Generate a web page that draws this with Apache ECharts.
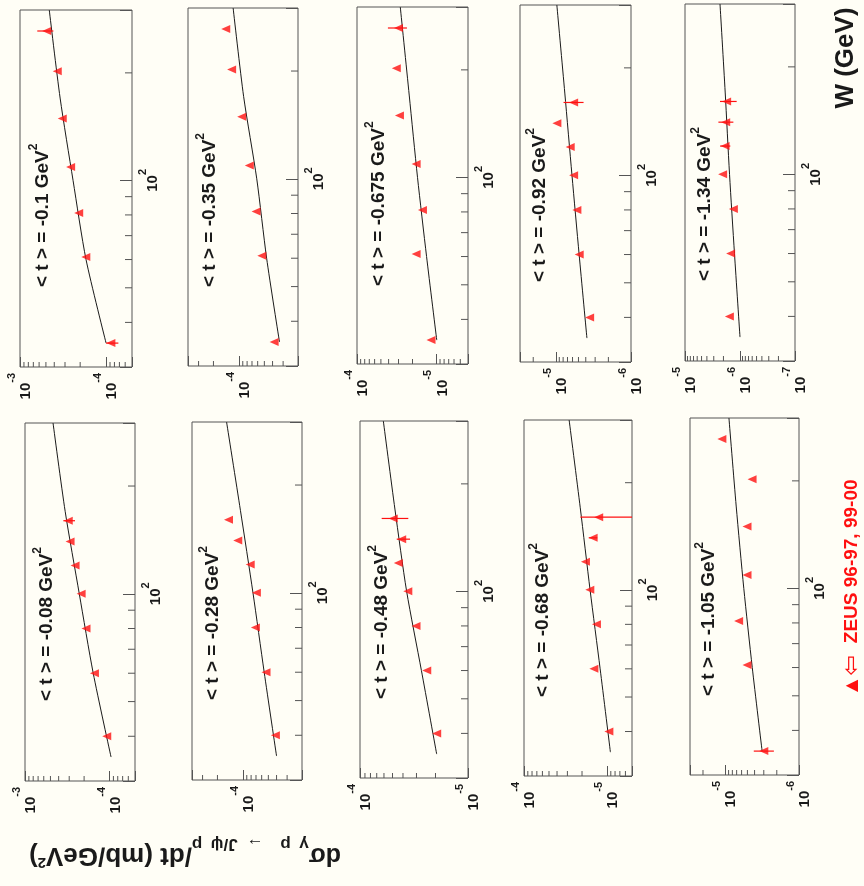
<!DOCTYPE html>
<html><head><meta charset="utf-8">
<script src="https://cdn.jsdelivr.net/npm/echarts@6/dist/echarts.min.js"></script>
<style>html,body{margin:0;padding:0;background:#fffef6}#c{width:864px;height:886px}</style>
</head><body><div id="c"></div>
<script>
// ---------------- data ----------------
const T_LABELS = ['-0.1', '-0.35', '-0.675', '-0.92', '-1.34', '-0.08', '-0.28', '-0.48', '-0.68', '-1.05'];
const W_HIGH = [35, 61, 81, 109, 149, 202, 262];
const W_LOW = [40, 60, 80, 100, 120, 140, 160];
const W_RANGE = [30, 300];
const W_MINOR = [40, 50, 60, 70, 80, 90, 200];
const XS_RANGES = [[5e-5, 1e-3], [2e-5, 4e-4], [4e-6, 1e-4], [1e-6, 3e-5], [1e-7, 1e-5],
                   [5e-5, 1e-3], [2e-5, 4e-4], [1e-5, 1e-4], [5e-6, 1e-4], [1e-6, 3e-5]];

const XS_T1 = [8.8e-5, 1.72e-4, 2.08e-4, 2.58e-4, 3.23e-4, 3.69e-4, 4.9e-4];
const XS_T2 = [3.83e-5, 5.36e-5, 6.27e-5, 7.53e-5, 9.27e-5, 1.22e-4, 1.43e-4];
const XS_T3 = [1.17e-5, 1.80e-5, 1.50e-5, 1.80e-5, 2.92e-5, 3.2e-5, 3.0e-5];
const XS_T4 = [3.55e-6, 4.89e-6, 5.25e-6, 5.8e-6, 6.44e-6, 9.7e-6, 5.8e-6];
const XS_T5 = [1.56e-6, 1.48e-6, 1.32e-6, 2.07e-6, 1.87e-6, 1.82e-6, 1.75e-6];
const XS_B1 = [1.08e-4, 1.51e-4, 1.90e-4, 2.17e-4, 2.56e-4, 2.93e-4, 3.08e-4];
const XS_B2 = [4.13e-5, 5.33e-5, 7.12e-5, 6.93e-5, 8.2e-5, 1.15e-4, 1.48e-4];
const XS_B3 = [1.95e-5, 2.41e-5, 3.03e-5, 3.61e-5, 4.42e-5, 4.11e-5, 4.92e-5];
const XS_B4 = [9.5e-6, 1.44e-5, 1.34e-5, 1.61e-5, 1.82e-5, 1.47e-5, 1.26e-5];
const XS_B5 = [3.0e-6, 5.07e-6, 6.58e-6, 5.07e-6, 5.07e-6, 4.33e-6, 1.11e-5];

const ERR_T1 = [[7.2e-5, 1.0e-4], null, null, null, null, null, [4.1e-4, 6.3e-4]];
const ERR_T2 = [null, null, null, null, null, null, null];
const ERR_T3 = [null, null, null, null, null, null, [2.35e-5, 4.08e-5]];
const ERR_T4 = [null, null, null, null, null, null, [4.28e-6, 7.9e-6]];
const ERR_T5 = [null, null, null, null, [1.5e-6, 2.3e-6], [1.32e-6, 2.47e-6], [1.15e-6, 2.31e-6]];
const ERR_B1 = [null, null, null, null, null, null, [2.56e-4, 3.52e-4]];
const ERR_B2 = [null, null, null, null, null, null, null];
const ERR_B3 = [null, null, null, null, null, [3.44e-5, 4.57e-5], [3.57e-5, 6.3e-5]];
const ERR_B4 = [null, null, null, null, null, [1.31e-5, 1.66e-5], [3e-6, 2.09e-5]];
const ERR_B5 = [[2.19e-6, 4.1e-6], null, null, null, null, null, null];

const TH_W = [35, 60, 100, 170, 300];
const TH_T1 = [1.0e-4, 1.71e-4, 2.42e-4, 3.42e-4, 4.57e-4];
const TH_T2 = [3.31e-5, 4.7e-5, 6.15e-5, 8.8e-5, 1.17e-4];
const TH_T3 = [9.9e-6, 1.33e-5, 1.73e-5, 2.2e-5, 2.85e-5];
const TH_T4 = [3.86e-6, 4.9e-6, 6.1e-6, 7.6e-6, 9.7e-6];
const TH_T5 = [1.0e-6, 1.26e-6, 1.55e-6, 1.86e-6, 2.31e-6];
const TH_B1 = [9.6e-5, 1.56e-4, 2.28e-4, 3.35e-4, 4.66e-4];
const TH_B2 = [4.0e-5, 5.6e-5, 7.6e-5, 1.07e-4, 1.56e-4];
const TH_B3 = [1.95e-5, 2.7e-5, 3.7e-5, 4.75e-5, 6.08e-5];
const TH_B4 = [9.1e-6, 1.21e-5, 1.6e-5, 2.1e-5, 2.86e-5];
const TH_B5 = [3.16e-6, 4.3e-6, 5.6e-6, 7.1e-6, 8.9e-6];

// ---------------- layout (picture is the figure turned a quarter turn) ----------------
const BOXES = [[20, 10, 112, 357], [188, 8, 110, 358], [357, 7, 111, 357], [520, 5, 111, 357], [685, 4, 110, 357],
               [25, 423, 110, 358], [192, 422, 110, 358], [360, 421, 108, 357], [524, 420, 108, 356], [690, 418, 109, 357]];
const LABEL_POS = [[40, 287], [207, 287], [376, 286], [537, 282], [702, 281],
                   [44, 701], [210, 700], [379, 699], [540, 697], [706, 696]];

const PANEL_W = [W_HIGH, W_HIGH, W_HIGH, W_LOW, W_LOW, W_LOW, W_LOW, W_LOW, W_LOW, W_HIGH];
const PANEL_XS = [XS_T1, XS_T2, XS_T3, XS_T4, XS_T5, XS_B1, XS_B2, XS_B3, XS_B4, XS_B5];
const PANEL_ERR = [ERR_T1, ERR_T2, ERR_T3, ERR_T4, ERR_T5, ERR_B1, ERR_B2, ERR_B3, ERR_B4, ERR_B5];
const PANEL_TH = [TH_T1, TH_T2, TH_T3, TH_T4, TH_T5, TH_B1, TH_B2, TH_B3, TH_B4, TH_B5];

const FONT = '"Liberation Sans", Arial, Helvetica, sans-serif';
const INK = '#1a1a1a';
const FRAME = '#555555';
const RED = '#ff1010';

function decadeMinors(min, max) {
  const out = [];
  for (let k = Math.floor(Math.log10(min)); k <= Math.ceil(Math.log10(max)); k++) {
    for (let m = 2; m <= 9; m++) {
      const v = m * Math.pow(10, k);
      if (v > min * 1.001 && v < max * 0.999) out.push(v);
    }
  }
  return out;
}
function powLabel(v) {
  const e = Math.log10(v), r = Math.round(e);
  if (Math.abs(e - r) > 1e-6) return '';
  return '{b|10}{e|' + r + '}';
}
const richX = {
  b: {fontFamily: FONT, fontSize: 15, fontWeight: 'bold', color: INK, verticalAlign: 'bottom'},
  e: {fontFamily: FONT, fontSize: 11, fontWeight: 'bold', color: INK, verticalAlign: 'top', padding: [0, 0, 16, 0]}
};
const richW = {
  b: {fontFamily: FONT, fontSize: 15, fontWeight: 'bold', color: INK, verticalAlign: 'bottom'},
  e: {fontFamily: FONT, fontSize: 11, fontWeight: 'bold', color: INK, verticalAlign: 'top', padding: [0, 0, 12, 0]}
};

const grids = [], xAxes = [], yAxes = [], series = [], graphics = [];

BOXES.forEach((b, i) => {
  const xr = XS_RANGES[i];
  grids.push({left: b[0], top: b[1], width: b[2], height: b[3], show: true, borderColor: FRAME, borderWidth: 1,
              backgroundColor: 'transparent', containLabel: false, outerBoundsMode: 'none'});
  xAxes.push({
    type: 'log', gridIndex: i, min: xr[0], max: xr[1], inverse: true, position: 'bottom', logBase: 10,
    axisLine: {show: false},
    axisTick: {show: true, inside: true, length: 10, lineStyle: {color: FRAME, width: 1}},
    axisLabel: {show: true, rotate: 90, margin: 6, formatter: powLabel, rich: richX},
    splitLine: {show: false}, minorTick: {show: false}, minorSplitLine: {show: false}
  });
  yAxes.push({
    type: 'log', gridIndex: i, min: W_RANGE[0], max: W_RANGE[1], position: 'right', logBase: 10,
    axisLine: {show: false},
    axisTick: {show: true, inside: true, length: 12, lineStyle: {color: FRAME, width: 1}},
    axisLabel: {show: true, rotate: 90, margin: 5, formatter: powLabel, rich: richW},
    splitLine: {show: false}, minorTick: {show: false}, minorSplitLine: {show: false}
  });

  // minor ticks (log 2..9) drawn through the axes' own scales
  const tickData = decadeMinors(xr[0], xr[1]).map(v => [0, v, W_RANGE[0]])
    .concat(W_MINOR.map(w => [1, xr[0], w]));
  series.push({
    type: 'custom', xAxisIndex: i, yAxisIndex: i, silent: true, clip: false, z: 3,
    encode: {x: 1, y: 2},
    data: tickData,
    renderItem: (params, api) => {
      const p = api.coord([api.value(1), api.value(2)]);
      const flag = api.value(0);
      const shape = flag === 0
        ? {x1: p[0], y1: p[1], x2: p[0], y2: p[1] - 5}
        : {x1: p[0], y1: p[1], x2: p[0] - 7, y2: p[1]};
      return {type: 'line', shape, style: {stroke: FRAME, lineWidth: 1}};
    }
  });

  // theory curve
  series.push({
    type: 'line', xAxisIndex: i, yAxisIndex: i, showSymbol: false, symbol: 'none', smooth: 0.25,
    silent: true, clip: true, z: 2,
    lineStyle: {color: INK, width: 1},
    data: TH_W.map((w, k) => [PANEL_TH[i][k], w])
  });

  // error bars
  const errData = [];
  PANEL_ERR[i].forEach((e, k) => { if (e) errData.push([e[0], e[1], PANEL_W[i][k]]); });
  series.push({
    type: 'custom', xAxisIndex: i, yAxisIndex: i, silent: true, clip: true, z: 4,
    encode: {x: [0, 1], y: 2},
    data: errData,
    renderItem: (params, api) => {
      const a = api.coord([api.value(0), api.value(2)]);
      const c = api.coord([api.value(1), api.value(2)]);
      return {type: 'line', shape: {x1: a[0], y1: a[1], x2: c[0], y2: c[1]}, style: {stroke: RED, lineWidth: 1.2}};
    }
  });

  // ZEUS points
  series.push({
    type: 'scatter', xAxisIndex: i, yAxisIndex: i, symbol: 'triangle', symbolRotate: 90, symbolSize: [8, 9],
    silent: true, z: 5, itemStyle: {color: RED},
    data: PANEL_W[i].map((w, k) => [PANEL_XS[i][k], w])
  });

  // panel label
  graphics.push({
    type: 'text', x: LABEL_POS[i][0], y: LABEL_POS[i][1], rotation: Math.PI / 2, silent: true,
    style: {
      text: '{m|< t > = ' + T_LABELS[i] + ' GeV}{s|2}',
      align: 'left', verticalAlign: 'middle',
      rich: {
        m: {fontFamily: FONT, fontSize: 19, fontWeight: 'bold', fill: INK, verticalAlign: 'bottom'},
        s: {fontFamily: FONT, fontSize: 12, fontWeight: 'bold', fill: INK, verticalAlign: 'top', padding: [0, 0, 12, 0]}
      }
    }
  });
});

// axis titles and legend
graphics.push({
  type: 'text', x: 846, y: 58, rotation: Math.PI / 2, silent: true,
  style: {text: 'W (GeV)', font: 'bold 26px ' + FONT, fill: INK, align: 'center', verticalAlign: 'middle'}
});
graphics.push({
  type: 'text', x: 341, y: 855, rotation: Math.PI, silent: true,
  style: {
    text: '{d|dσ}{s|γ\u2002p\u2003→\u2002J/ψ\u2002p}{a|/dt (mb/GeV}{p|2}{a|)}',
    align: 'left', verticalAlign: 'middle',
    rich: {
      d: {fontFamily: FONT, fontSize: 25, fontWeight: 'bold', fill: INK, verticalAlign: 'middle'},
      a: {fontFamily: FONT, fontSize: 26, fontWeight: 'bold', fill: INK, verticalAlign: 'middle'},
      s: {fontFamily: FONT, fontSize: 17, fontWeight: 'bold', fill: INK, verticalAlign: 'bottom', padding: [22, 0, 0, 0]},
      p: {fontFamily: FONT, fontSize: 15, fontWeight: 'bold', fill: INK, verticalAlign: 'top', padding: [5, 0, 0, 0]}
    }
  }
});
graphics.push({
  type: 'text', x: 852, y: 692, rotation: Math.PI / 2, silent: true,
  style: {
    text: '{t|▲}{g| }{a|⇦}{h|   }{z|ZEUS 96-97, 99-00}',
    align: 'left', verticalAlign: 'middle',
    rich: {
      t: {fontFamily: '"DejaVu Sans", sans-serif', fontSize: 16, fill: RED},
      g: {fontFamily: FONT, fontSize: 14, fill: RED},
      a: {fontFamily: '"DejaVu Sans", sans-serif', fontSize: 25, fill: RED},
      h: {fontFamily: FONT, fontSize: 14, fill: RED},
      z: {fontFamily: FONT, fontSize: 19, fontWeight: 'bold', fill: RED}
    }
  }
});

const chart = echarts.init(document.getElementById('c'), null, {renderer: 'canvas'});
chart.setOption({
  backgroundColor: '#fffef6',
  animation: false,
  grid: grids, xAxis: xAxes, yAxis: yAxes, series: series, graphic: graphics
});
</script>
</body></html>
